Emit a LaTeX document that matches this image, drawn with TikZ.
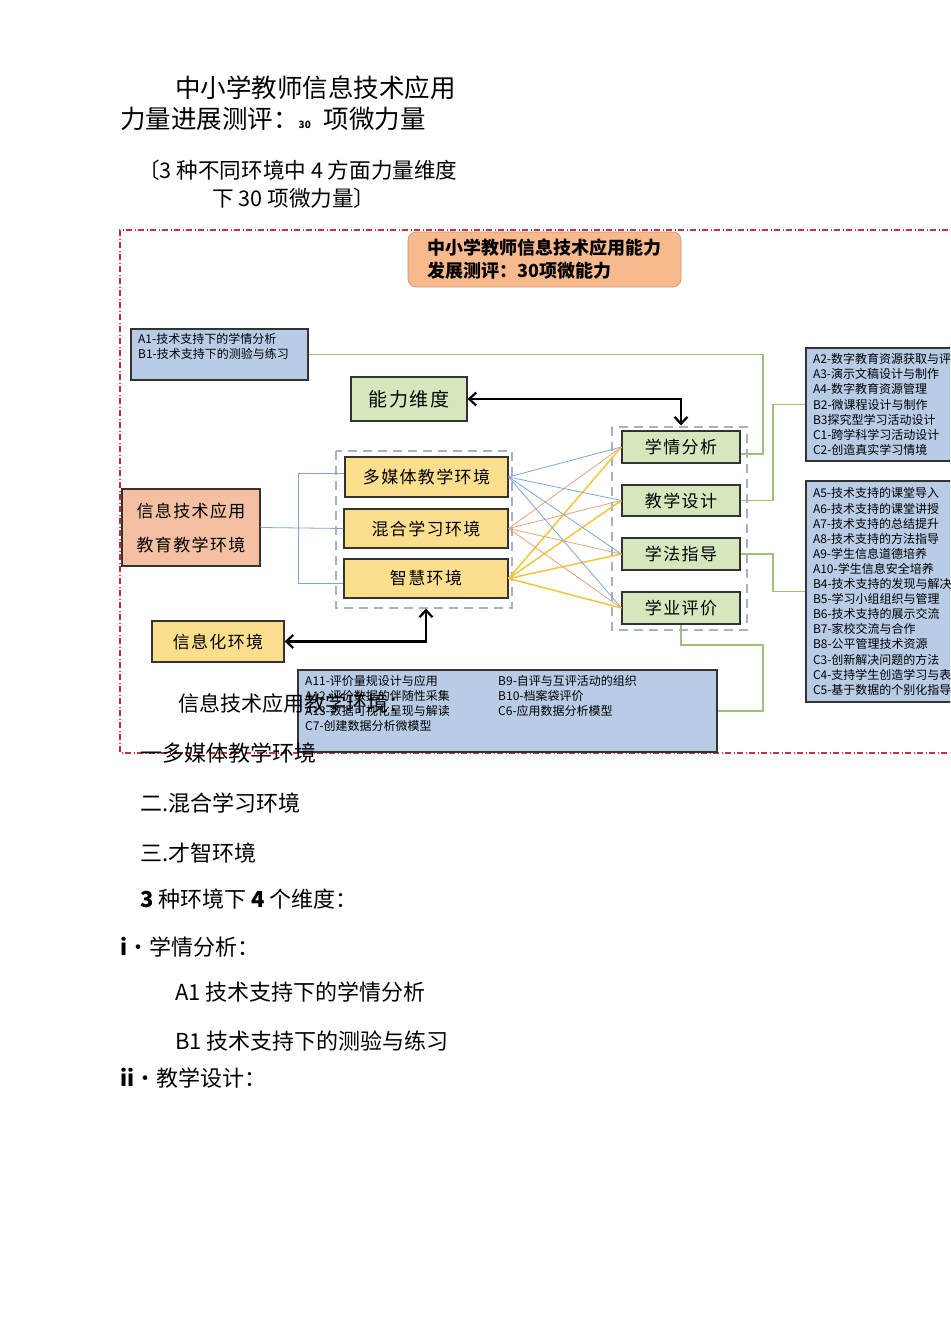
\documentclass[tikz,border=0pt]{standalone}
\usepackage{fontspec}
\setmainfont{Noto Sans CJK SC}
\newfontfamily\boxfont[LetterSpace=8]{Noto Sans CJK SC}
\usetikzlibrary{arrows.meta}
\definecolor{yel}{HTML}{FCDF8C}
\definecolor{grn}{HTML}{D5E7BD}
\definecolor{blu}{HTML}{B8CCE6}
\definecolor{sal}{HTML}{F5BFA1}
\definecolor{org}{HTML}{F8BA8C}
\definecolor{glc}{HTML}{9DC07A}
\definecolor{blc}{HTML}{7FA6D6}
\definecolor{orc}{HTML}{E9A27A}
\definecolor{ylc}{HTML}{F2C63A}
\definecolor{gdc}{HTML}{A8B1C3}
\definecolor{rdc}{HTML}{C8303A}
\tikzset{
  box/.style={draw=black!80, line width=1.2pt, inner sep=0pt, font=\boxfont\fontsize{17}{20}\selectfont},
  ybox/.style={box, fill=yel},
  gbox/.style={box, fill=grn},
  sbox/.style={box, fill=sal},
  bbox/.style={draw=black!80, line width=1.1pt, fill=blu, inner sep=0pt, font=\fontsize{12}{15.1}\selectfont},
  smalltxt/.style={inner sep=0pt, align=left, font=\fontsize{12}{15.1}\selectfont},
  maintxt/.style={inner sep=0pt, anchor=west, font=\fontsize{22}{26}\selectfont},
  gline/.style={draw=glc, line width=1.1pt},
  bline/.style={draw=blc, line width=0.8pt},
  oline/.style={draw=orc, line width=0.8pt},
  yline/.style={draw=ylc, line width=1.5pt},
  gdash/.style={draw=gdc, line width=2.5pt, dash pattern=on 9pt off 6pt},
  bigarrow/.style={draw=black, line width=2.2pt, {Straight Barb[length=7pt,width=13pt]}-{Straight Barb[length=7pt,width=13pt]}},
  redborder/.style={draw=rdc, line width=1.4pt, dash pattern=on 6pt off 2.5pt on 1pt off 2.5pt}
}
\begin{document}
\begin{tikzpicture}[x=1pt,y=-1pt]
\useasboundingbox (0,0) rectangle (950,1343);
\fill[white] (0,0) rectangle (950,1343);
\clip (0,0) rectangle (950,1343);

% headings
\node[maintxt, font=\fontsize{25.5}{30}\selectfont] (h1) at (175,88) {中小学教师信息技术应用};
\node[maintxt, font=\fontsize{25.5}{30}\selectfont] (h2) at (120,119) {力量进展测评：{\fontsize{10}{12}\selectfont\bfseries 30}\hspace{13pt}项微力量};
\node[maintxt, font=\fontsize{21.6}{26}\selectfont] (h3) at (138,170) {〔3 种不同环境中 4 方面力量维度};
\node[maintxt, font=\fontsize{21.6}{26}\selectfont] (h4) at (212,198) {下 30 项微力量〕};

% red dash-dot frame
\draw[redborder] (960,230) -- (120,230) -- (120,753) -- (960,753);

% gray dashed groups
\draw[gdash] (336,451) rectangle (512,608);
\draw[gdash] (612,427) rectangle (747,630);

% title box
\node[draw=org!80!black, line width=0.6pt, fill=org, rounded corners=8pt, minimum width=273, minimum height=55, inner sep=0pt, align=left, font=\bfseries\fontsize{18}{23}\selectfont] (tt) at (544.5,259.5) {中小学教师信息技术应用能力\\发展测评：30项微能力};

% boxes
\node[bbox, minimum width=177, minimum height=51] (ab) at (219.5,354.5) {};
\node[smalltxt, anchor=north west] (abt) at (138,333) {A1-技术支持下的学情分析\\B1-技术支持下的测验与练习};

\node[gbox, minimum width=116, minimum height=44, font=\boxfont\fontsize{19}{22}\selectfont] (nl) at (409,399) {能力维度};

\node[ybox, minimum width=163, minimum height=40] (dm) at (426.5,477) {多媒体教学环境};
\node[ybox, minimum width=164, minimum height=39] (hx) at (426,528.5) {混合学习环境};
\node[ybox, minimum width=164, minimum height=39] (zh) at (426,578.5) {智慧环境};

\node[gbox, minimum width=118, minimum height=32] (xq) at (681,447) {学情分析};
\node[gbox, minimum width=118, minimum height=31] (js) at (681,500.5) {教学设计};
\node[gbox, minimum width=118, minimum height=32] (xf) at (681,554) {学法指导};
\node[gbox, minimum width=118, minimum height=32] (xy) at (681,608) {学业评价};

\node[sbox, minimum width=138, minimum height=77, align=center] (ed) at (191,527.5) {信息技术应用\\[14pt]教育教学环境};
\node[ybox, minimum width=132, minimum height=41] (xx) at (218,641.5) {信息化环境};

\node[bbox, minimum width=184, minimum height=113, text width=170pt, align=left] (r1) at (898,404.5) {A2-数字教育资源获取与评价\\A3-演示文稿设计与制作\\A4-数字教育资源管理\\B2-微课程设计与制作\\B3探究型学习活动设计\\C1-跨学科学习活动设计\\C2-创造真实学习情境};
\node[bbox, minimum width=184, minimum height=221, text width=170pt, align=left] (r2) at (898,591.5) {A5-技术支持的课堂导入\\A6-技术支持的课堂讲授\\A7-技术支持的总结提升\\A8-技术支持的方法指导\\A9-学生信息道德培养\\A10-学生信息安全培养\\B4-技术支持的发现与解决问题\\B5-学习小组组织与管理\\B6-技术支持的展示交流\\B7-家校交流与合作\\B8-公平管理技术资源\\C3-创新解决问题的方法\\C4-支持学生创造学习与表达\\C5-基于数据的个别化指导};

\node[bbox, minimum width=419, minimum height=82] (bt) at (507.5,711) {};
\node[smalltxt, anchor=north west] (btl) at (305,675) {A11-评价量规设计与应用\\A12-评价数据的伴随性采集\\A13-数据可视化呈现与解读\\C7-创建数据分析微模型};
\node[smalltxt, anchor=north west] (btr) at (498,675) {B9-自评与互评活动的组织\\B10-档案袋评价\\C6-应用数据分析模型};

% black arrows
\draw[bigarrow, shorten >=5pt] (nl.east) -| (xq.north);
\draw[bigarrow, shorten >=10pt] (xx.east) -| (zh.south);

% green connectors
\draw[gline] (ab.east) -| (763,454) -- ([yshift=-7pt]xq.east);
\draw[gline] (js.east) -- (773,500.5) |- (r1.west);
\draw[gline] (xf.east) -- (773,554) |- (r2.west);
\draw[gline] (xy.south) -- (681,645) -| (763,711) -- (bt.east);

% blue bracket
\draw[bline] (ed.east) -- (hx.west);
\draw[bline] ([yshift=4pt]dm.west) -| (298,583) -- ([yshift=-4.5pt]zh.west);

% crossing lines
\foreach \t in {xq,js,xf,xy}{
  \draw[bline] (dm.east) -- (\t.west);
  \draw[oline] (hx.east) -- (\t.west);
  \draw[yline] (zh.east) -- (\t.west);
}

% lower text
\node[maintxt, font=\fontsize{21}{25}\selectfont] (t1) at (178,703) {信息技术应用教学环境：};
\node[maintxt] (t2) at (140,753) {一多媒体教学环境};
\node[maintxt] (t3) at (140,803) {二.混合学习环境};
\node[maintxt] (t4) at (140,853) {三.才智环境};
\node[maintxt] (t5) at (140,899) {{\bfseries 3} 种环境下 {\bfseries 4} 个维度：};
\node[maintxt] (t6) at (120,947) {{\bfseries i}・学情分析：};
\node[maintxt] (t7) at (175,992) {A1 技术支持下的学情分析};
\node[maintxt] (t8) at (175,1041) {B1 技术支持下的测验与练习};
\node[maintxt] (t9) at (120,1078) {{\bfseries ii}・教学设计：};
\end{tikzpicture}
\end{document}
